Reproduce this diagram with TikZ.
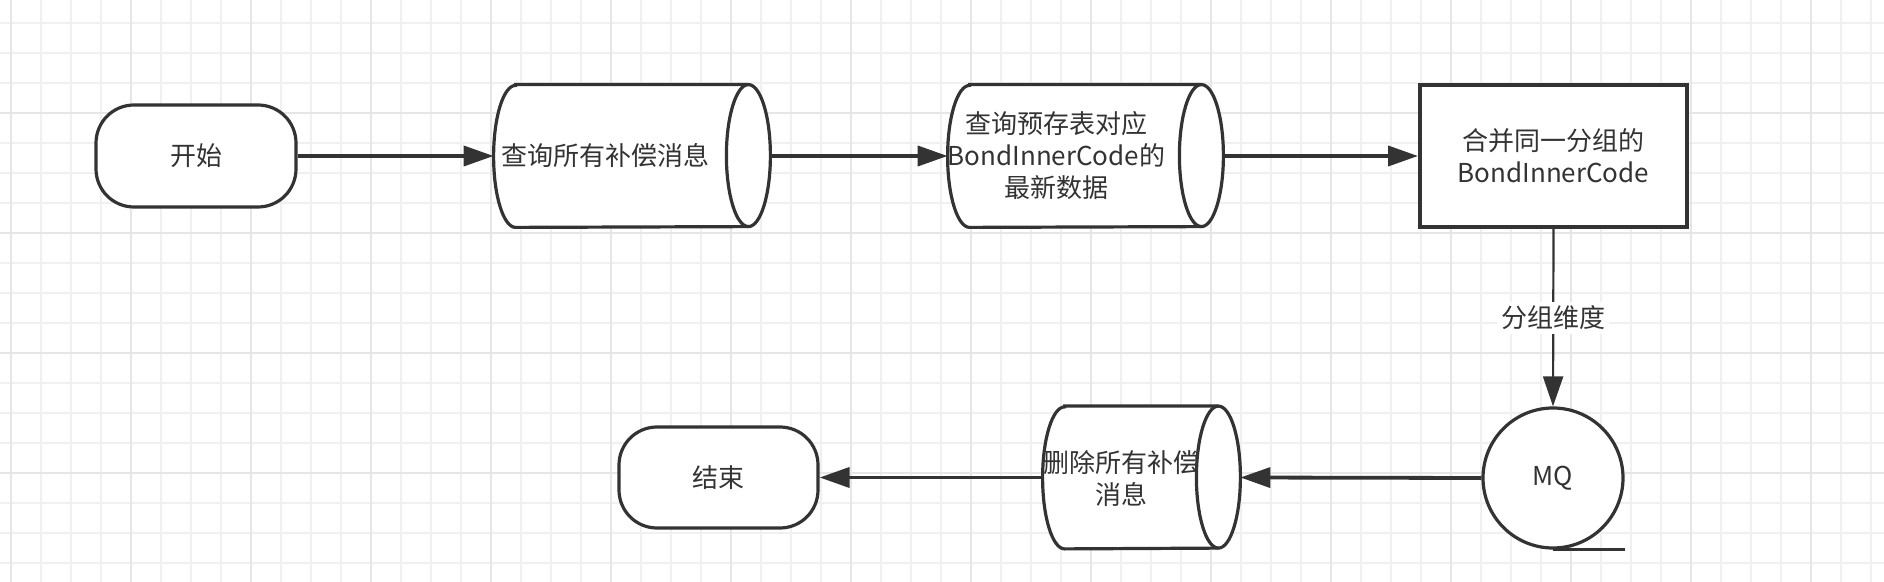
\documentclass[tikz,border=0pt]{standalone}
\usepackage{fontspec}
\setmainfont{Noto Sans CJK SC}
\usetikzlibrary{arrows.meta}

\definecolor{ink}{HTML}{333333}
\definecolor{gridminor}{HTML}{F0F0F0}
\definecolor{gridmajor}{HTML}{E6E6E6}

\tikzset{
  outline/.style={draw=ink, line width=1.6pt, fill=white},
  terminal/.style={outline, rounded corners=19pt, minimum width=100pt, minimum height=51pt},
  store/.style={minimum width=138pt, minimum height=71pt, inner sep=0pt},
  flow/.style={draw=ink, line width=1.9pt, -{Triangle[length=15pt,width=10pt]}},
}

% data store outline round a named node
\newcommand{\drawstore}[1]{%
  \path[outline] ([xshift=11pt]#1.north west) -- ([xshift=-11pt]#1.north east)
    arc[start angle=90, end angle=-90, x radius=11pt, y radius=35.5pt]
    -- ([xshift=11pt]#1.south west)
    arc[start angle=270, end angle=90, x radius=11pt, y radius=35.5pt] -- cycle;
  \draw[ink, line width=1.6pt] ([xshift=-11pt]#1.north east)
    arc[start angle=90, end angle=270, x radius=11pt, y radius=35.5pt];
}

\begin{document}
\begin{tikzpicture}[x=0.5pt, y=-0.5pt, font=\fontsize{13pt}{16pt}\selectfont, text=ink]

  % background grid
  \useasboundingbox (0,0) rectangle (1884,582);
  \fill[white] (0,0) rectangle (1884,582);
  \foreach \k in {0,...,62} \draw[gridminor, line width=0.9pt] ({11+30*\k},0) -- ({11+30*\k},582);
  \foreach \k in {0,...,18} \draw[gridminor, line width=0.9pt] (0,{22.7+30*\k}) -- (1884,{22.7+30*\k});
  \foreach \k in {0,...,15} \draw[gridmajor, line width=1pt] ({11+120*\k},0) -- ({11+120*\k},582);
  \foreach \k in {0,...,3} \draw[gridmajor, line width=1pt] (0,{112.7+120*\k}) -- (1884,{112.7+120*\k});

  % top row
  \node[terminal] (start) at (196,156) {开始};

  \node[store] (query) at (632,156) {};
  \drawstore{query}
  \node (queryText) at ([xshift=-13.5pt]query.center) {查询所有补偿消息};

  \node[store, minimum width=137.5pt] (latest) at (1085.5,156) {};
  \drawstore{latest}
  \node[align=center] (latestText) at ([xshift=-14.5pt]latest.center) {查询预存表对应\\BondInnerCode的\\最新数据};

  \node[outline, line width=2pt, minimum width=133.5pt, minimum height=71pt, align=center] (merge) at (1553.5,156) {合并同一分组的\\BondInnerCode};

  % bottom row
  \node[outline, circle, minimum size=70pt, inner sep=0pt] (mq) at (1553,478) {MQ};
  \draw[ink, line width=1.6pt] (mq.south) -- ++(72,0);

  \node[store, minimum width=98.5pt] (delete) at (1141.5,477.5) {};
  \drawstore{delete}
  \node[align=center] (deleteText) at ([xshift=-10pt, yshift=-0.5pt]delete.center) {删除所有补偿\\消息};

  \node[terminal, minimum width=99.5pt, minimum height=50.5pt] (finish) at (718.5,477.5) {结束};

  % connectors
  \draw[flow] (start.east) -- (query.west);
  \draw[flow] (query.east) -- (latest.west);
  \draw[flow] (latest.east) -- (merge.west);
  \draw[flow, line width=1.1pt] (merge.south) -- node[fill=white, inner sep=2pt] (groupLabel) {分组维度} (mq.north);
  \draw[flow] (mq.west) -- (delete.east);
  \draw[flow] (delete.west) -- (finish.east);

\end{tikzpicture}
\end{document}
